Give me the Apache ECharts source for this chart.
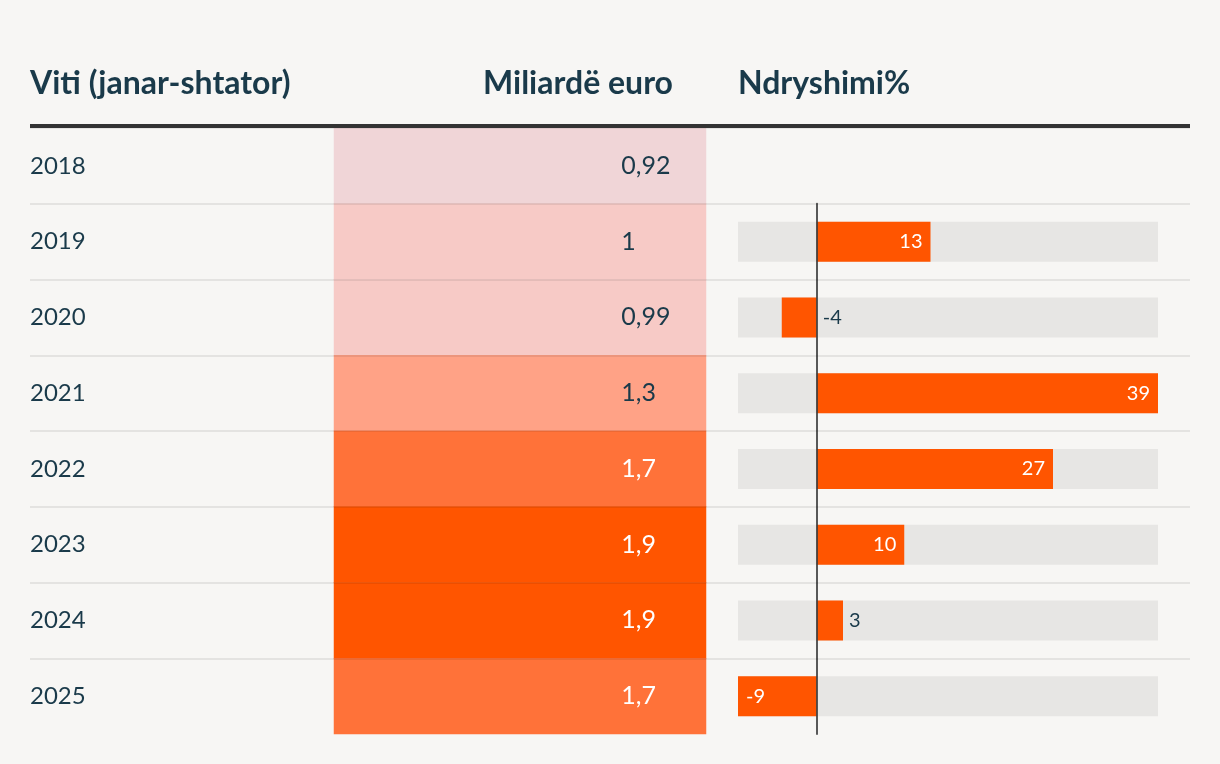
<!DOCTYPE html>
<html>
<head>
<meta charset="utf-8">
<script src="https://cdn.jsdelivr.net/npm/echarts@6/dist/echarts.min.js"></script>
<style>
html,body{margin:0;padding:0;background:#f7f6f4;}
#c{width:1220px;height:764px;}
</style>
</head>
<body>
<div id="c"></div>
<script>
const years = ['2018','2019','2020','2021','2022','2023','2024','2025'];
const valueBn = [0.92, 1, 0.99, 1.3, 1.7, 1.9, 1.9, 1.7];
const changeYears = ['2019','2020','2021','2022','2023','2024','2025'];
const changePct = [13, -4, 39, 27, 10, 3, -9];
const headers = ['Viti (janar-shtator)', 'Miliardë euro', 'Ndryshimi%'];

const FONT = 'Lato';
const INK = '#1a3a4a';
const chart = echarts.init(document.getElementById('c'), null, {renderer:'canvas'});

const heatData = years.map((y, i) => ({
  value: [0, i, valueBn[i]],
  label: { color: valueBn[i] >= 1.5 ? '#ffffff' : INK }
}));
const barData = changePct.map(v => {
  const big = Math.abs(v) >= 8;
  return {
    value: v,
    label: big
      ? { position: v > 0 ? 'insideRight' : 'insideLeft', color: '#ffffff', distance: 8 }
      : { position: 'right', color: INK, distance: 6 }
  };
});

const titleStyle = { fontFamily: FONT, fontSize: 32, fontWeight: 'bold', color: INK };

chart.setOption({
  backgroundColor: '#f7f6f4',
  animation: false,
  title: [
    { text: headers[0], left: 30, top: 68, padding: 0, textStyle: titleStyle },
    { text: headers[1], right: 547, top: 68, padding: 0, textStyle: titleStyle },
    { text: headers[2], left: 738, top: 68, padding: 0, textStyle: titleStyle }
  ],
  grid: [
    { left: 30, right: 30, top: 128, bottom: 30 },
    { left: 334, right: 514, top: 128, bottom: 30 },
    { left: 738, right: 62, top: 203.75, bottom: 30 },
    { left: 30, right: 30, top: 128, bottom: 105.75 }
  ],
  xAxis: [
    { gridIndex: 0, type: 'value', position: 'top', min: 0, max: 1, offset: 2,
      axisLine: { show: true, lineStyle: { color: '#333333', width: 4, cap: 'butt' } },
      axisTick: { show: false }, axisLabel: { show: false }, splitLine: { show: false }, z: 6 },
    { gridIndex: 1, type: 'category', data: [headers[1]], show: false },
    { gridIndex: 2, type: 'value', min: -9, max: 39, show: false },
    { gridIndex: 3, type: 'value', show: false }
  ],
  yAxis: [
    { gridIndex: 0, type: 'category', data: years, inverse: true,
      axisLine: { show: false }, axisTick: { show: false }, splitLine: { show: false },
      axisLabel: { inside: true, align: 'left', margin: 0, fontFamily: FONT, fontSize: 24, color: INK } },
    { gridIndex: 1, type: 'category', data: years, inverse: true, show: false },
    { gridIndex: 2, type: 'category', data: changeYears, inverse: true, z: 5,
      axisLine: { show: true, onZero: true, lineStyle: { color: 'rgba(60,60,60,0.85)', width: 2 } },
      axisTick: { show: false }, axisLabel: { show: false }, splitLine: { show: false } },
    { gridIndex: 3, type: 'category', data: years.slice(0, 7), inverse: true, z: 6,
      axisLine: { show: false }, axisTick: { show: false }, axisLabel: { show: false },
      splitLine: { show: true, lineStyle: { color: 'rgba(0,0,0,0.075)', width: 2 } } }
  ],
  visualMap: {
    show: false, type: 'piecewise', seriesIndex: 0, dimension: 2,
    pieces: [
      { lt: 0.95, color: '#f0d5d7' },
      { gte: 0.95, lt: 1.1, color: '#f7cac6' },
      { gte: 1.1, lt: 1.5, color: '#ffa286' },
      { gte: 1.5, lt: 1.8, color: '#ff7239' },
      { gte: 1.8, color: '#ff5500' }
    ]
  },
  series: [
    { type: 'heatmap', xAxisIndex: 1, yAxisIndex: 1, data: heatData,
      itemStyle: { borderWidth: 0 },
      emphasis: { disabled: true },
      label: { show: true, position: 'insideRight', distance: 85, align: 'left', fontFamily: FONT, fontSize: 25,
        formatter: p => String(p.value[2]).replace('.', ',') } },
    { type: 'bar', xAxisIndex: 2, yAxisIndex: 2, data: barData, barWidth: 40,
      itemStyle: { color: '#ff5500' },
      showBackground: true, backgroundStyle: { color: '#e7e6e4' },
      emphasis: { disabled: true },
      label: { show: true, fontFamily: FONT, fontSize: 20 } }
  ]
});
</script>
</body>
</html>
